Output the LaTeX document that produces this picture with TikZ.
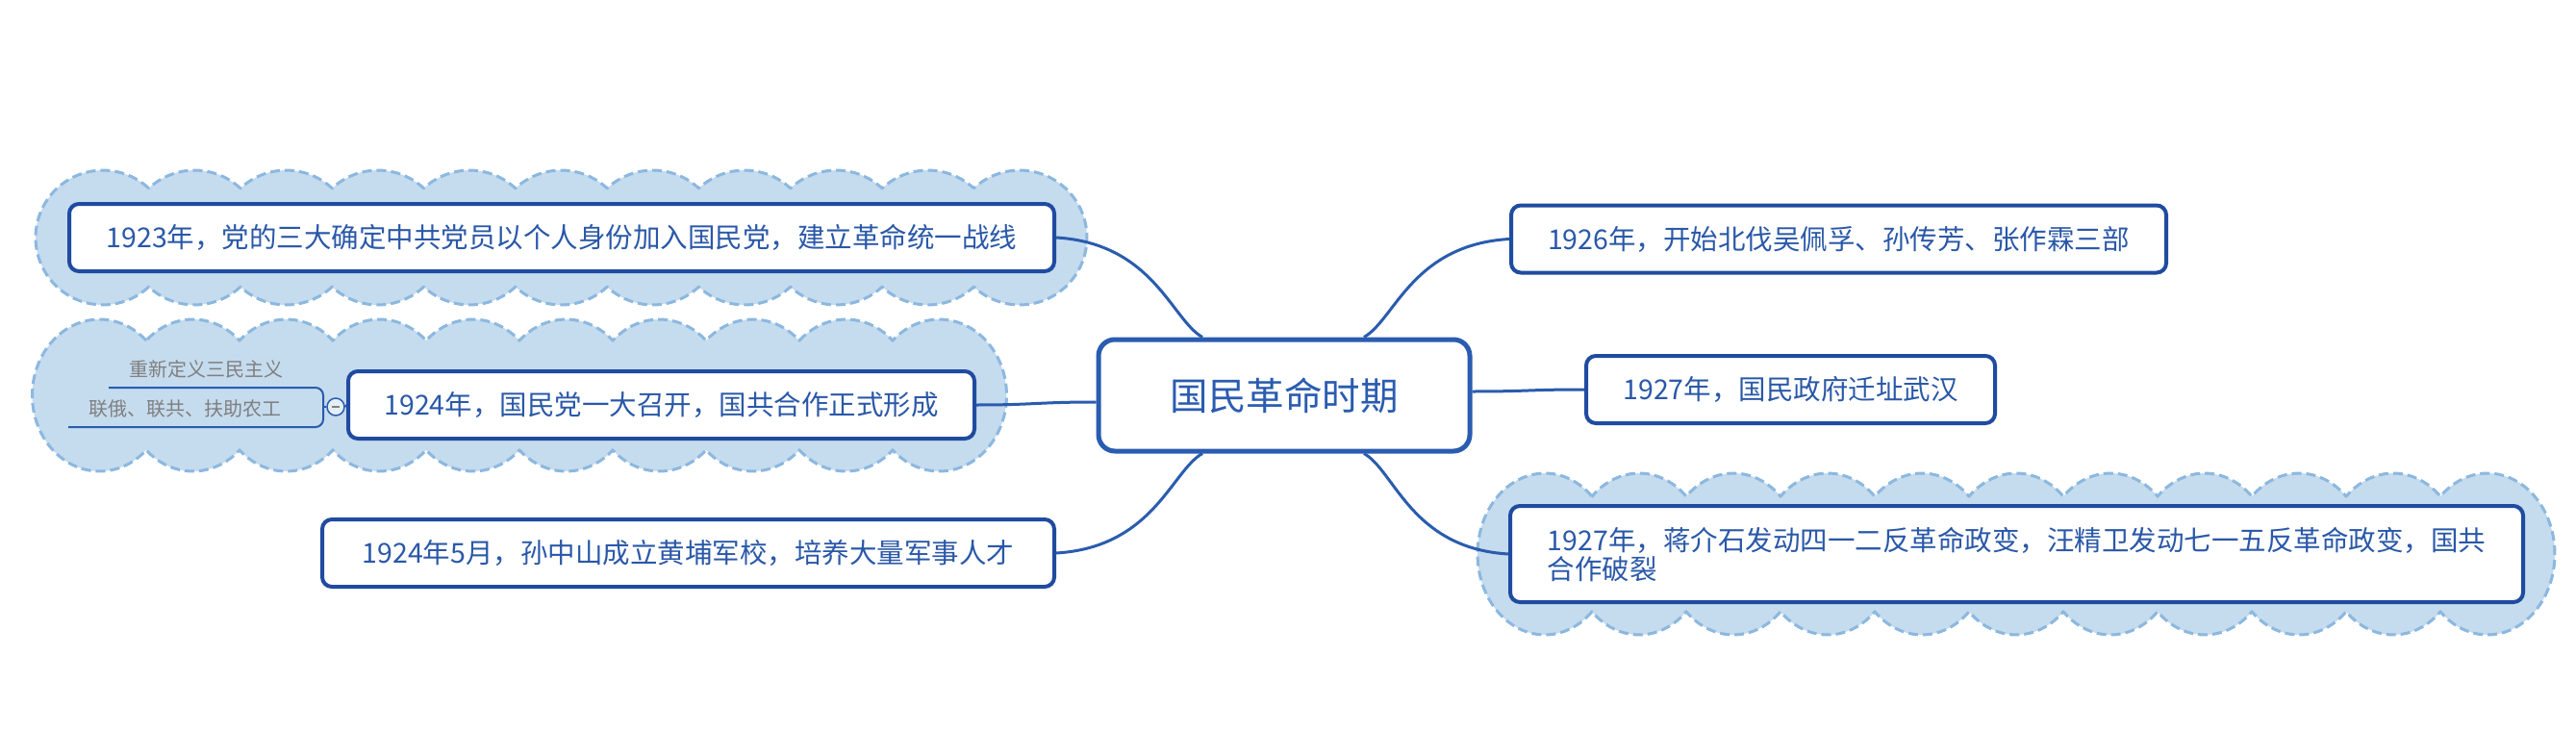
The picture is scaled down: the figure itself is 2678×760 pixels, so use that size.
\documentclass[tikz,border=0pt]{standalone}
\usepackage{fontspec}
\newfontfamily\cjk{Noto Sans CJK SC}
\usetikzlibrary{calc}
\definecolor{boxblue}{HTML}{1F4BA0}
\definecolor{rootblue}{HTML}{2A5CB0}
\definecolor{lineblue}{HTML}{2A5CAE}
\definecolor{txtblue}{HTML}{2A58A8}
\definecolor{cloudfill}{HTML}{C5DBEE}
\definecolor{clouddash}{HTML}{8CB8DF}
\definecolor{subgrey}{HTML}{7F7F7F}
% #1 first centre x, #2 spacing, #3 number of puffs, #4 midline y, #5 x radius, #6 y radius
\newcommand{\mycloud}[6]{%
  \pgfmathsetmacro{\cth}{acos(#2/(2*#5))}%
  \pgfmathtruncatemacro{\cpen}{#3-2}%
  \pgfmathsetmacro{\clastx}{#1+(#3-1)*#2}%
  \path[cloudstyle]
    plot[domain=\cth:360-\cth, samples=60] ({#1+#5*cos(\x)}, {#4-#6*sin(\x)})
    \foreach \ci in {1,...,\cpen}{
      -- plot[domain=180+\cth:360-\cth, samples=20] ({#1+\ci*#2+#5*cos(\x)}, {#4-#6*sin(\x)}) }
    -- plot[domain=180+\cth:540-\cth, samples=60] ({\clastx+#5*cos(\x)}, {#4-#6*sin(\x)})
    \foreach \ci in {\cpen,...,1}{
      -- plot[domain=\cth:180-\cth, samples=20] ({#1+\ci*#2+#5*cos(\x)}, {#4-#6*sin(\x)}) }
    -- cycle;
}
\begin{document}
\begin{tikzpicture}[x=1pt,y=-1pt,
  cloudstyle/.style={fill=cloudfill, draw=clouddash, line width=3pt, dash pattern=on 10pt off 5pt},
  topicbox/.style={draw=boxblue, line width=4pt, rounded corners=10pt, fill=white, text=txtblue,
    font=\cjk\fontsize{28.5}{30}\selectfont, inner sep=0pt, minimum height=70pt, align=left},
  rootbox/.style={draw=rootblue, line width=5pt, rounded corners=17pt, fill=white, text=rootblue,
    font=\cjk\fontsize{39.5}{44}\selectfont, minimum width=386pt, minimum height=116pt, inner sep=0pt},
  conn/.style={draw=lineblue, line width=3pt},
  subtext/.style={text=subgrey, font=\cjk\fontsize{20}{24}\selectfont, inner sep=0pt,
    minimum height=38pt, anchor=south west},
  subline/.style={draw=lineblue, line width=2pt, rounded corners=8pt},
  collapse/.style={circle, draw=lineblue, line width=1.5pt, fill=white!55!cloudfill,
    minimum size=18pt, inner sep=0pt}
  ]
\useasboundingbox (0,0) rectangle (2678,760);
\fill[white] (0,0) rectangle (2678,760);

% clouds
\mycloud{107}{95.3}{11}{247}{70}{70}
\mycloud{103.5}{97}{10}{411}{70}{79}
\mycloud{1606}{98}{11}{576}{70}{84}

% nodes
\node[rootbox] (root) at (1335,411) {国民革命时期};
\node[topicbox, minimum width=1024pt] (n1923) at (584,247) {1923年，党的三大确定中共党员以个人身份加入国民党，建立革命统一战线};
\node[topicbox, minimum width=651pt] (n1924) at (687.5,421) {1924年，国民党一大召开，国共合作正式形成};
\node[topicbox, minimum width=761pt] (n1924b) at (715.5,575) {1924年5月，孙中山成立黄埔军校，培养大量军事人才};
\node[topicbox, minimum width=681pt] (n1926) at (1911.5,248.5) {1926年，开始北伐吴佩孚、孙传芳、张作霖三部};
\node[topicbox, minimum width=425pt] (n1927a) at (1861.5,405) {1927年，国民政府迁址武汉};
\node[topicbox, minimum width=1053pt, minimum height=100pt] (n1927b) at (2096.5,576)
  {1927年，蒋介石发动四一二反革命政变，汪精卫发动七一五反革命政变，国共\\合作破裂};

% sub topics of 1924
\node[subtext, minimum width=202pt] (s1) at (113,403) {重新定义三民主义};
\node[subtext, minimum width=243pt] (s2) at (71,444) {联俄、联共、扶助农工};
\node[collapse] (coll) at (349,423) {};
\coordinate (jn) at (336,423);
\draw[subline] (s1.south west) -| (jn);
\draw[subline] (s2.south west) -| (jn);
\draw[subline] (jn) -- (coll.west);
\draw[draw=lineblue, line width=2pt] (coll.east) -- (n1924.west);
\draw[subgrey, line width=1.5pt] ([xshift=-4pt]coll.center) -- ([xshift=4pt]coll.center);

% connectors
\draw[conn] (n1923.east) .. controls +(101,6) and +(-32,-18) .. ([xshift=-85pt]root.north);
\draw[conn] (n1924.east) .. controls +(60,0) and +(-60,0) .. ([yshift=-7pt]root.west);
\draw[conn] (n1924b.east) .. controls +(101,-6) and +(-32,18) .. ([xshift=-85pt]root.south);
\draw[conn] ([xshift=83pt]root.north) .. controls +(32,-18) and +(-101,6) .. (n1926.west);
\draw[conn] ([yshift=4pt]root.east) .. controls +(60,0) and +(-60,0) .. (n1927a.west);
\draw[conn] ([xshift=83pt]root.south) .. controls +(32,18) and +(-101,-6) .. (n1927b.west);
\end{tikzpicture}
\end{document}
